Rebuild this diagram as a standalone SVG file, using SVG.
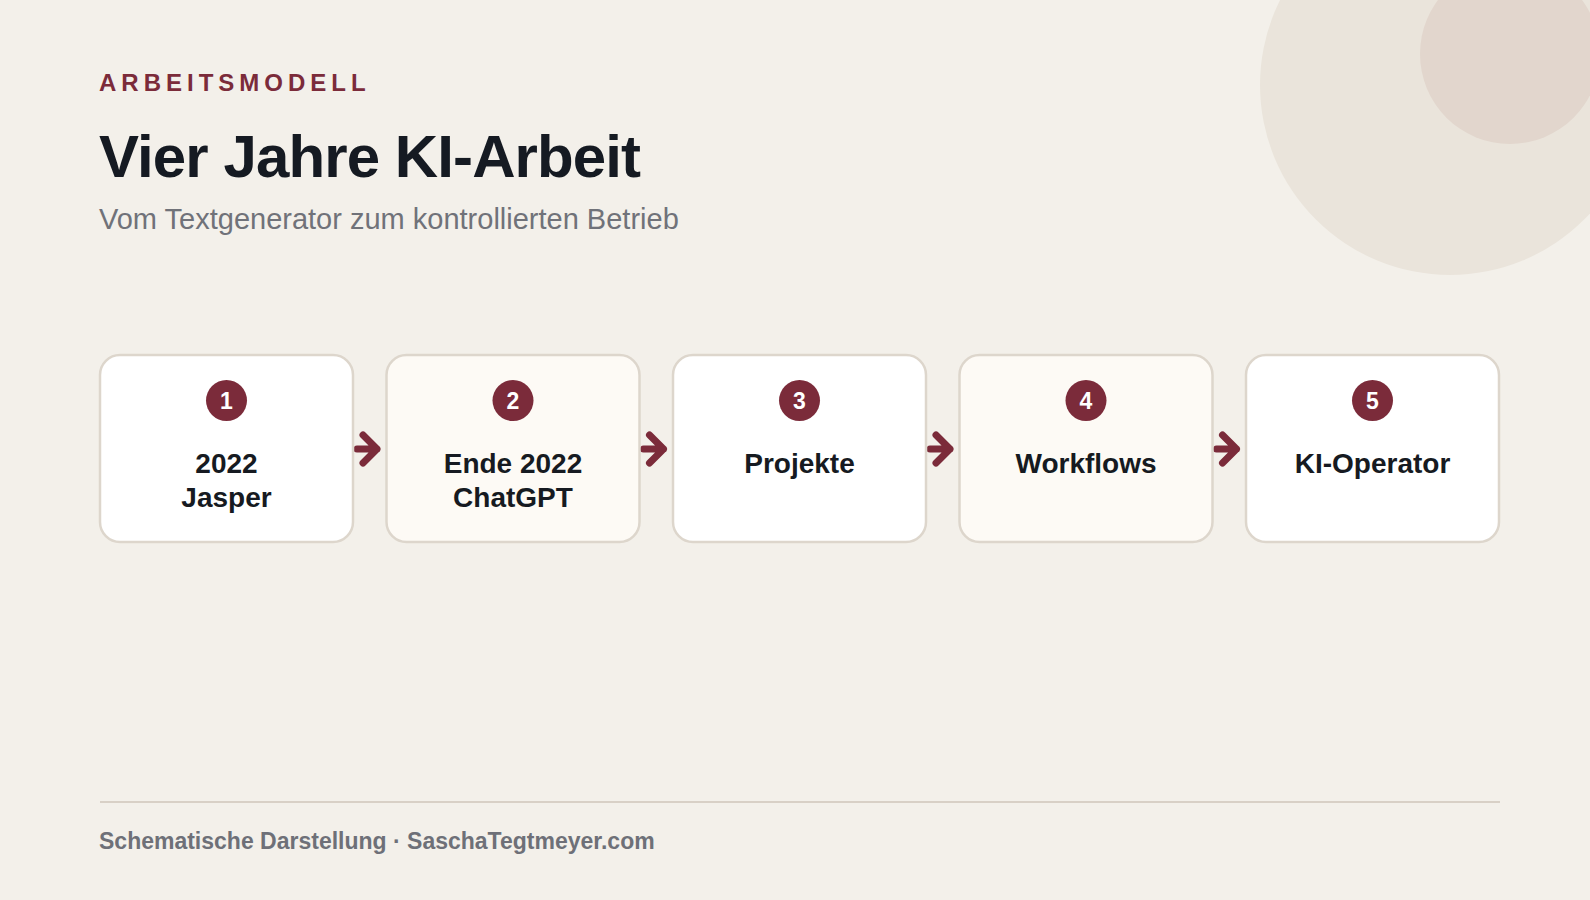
<svg xmlns="http://www.w3.org/2000/svg" width="1590" height="900" viewBox="0 0 1590 900">
<style>
.bg{fill:#F3F0EA}
.card{stroke:#DDD6CC;stroke-width:2.5}
.c1{fill:#FFFFFF}
.c2{fill:#FDFAF5}
.badge{fill:#7B2B3A}
.num{font-family:"Liberation Sans",Arial,sans-serif;font-weight:700;font-size:23px;fill:#FFFFFF;text-anchor:middle}
.lbl{font-family:"Liberation Sans",Arial,sans-serif;font-weight:700;font-size:28px;fill:#161A21;text-anchor:middle}
.arrow{fill:none;stroke:#7B2B3A;stroke-width:7;stroke-linecap:round;stroke-linejoin:round}
</style>
<rect class="bg" x="0" y="0" width="1590" height="900"/>
<circle cx="1450" cy="85" r="190" fill="#EAE4DB"/>
<circle cx="1510" cy="54" r="90" fill="#E2D6CD"/>
<text x="99" y="91" font-family="Liberation Sans, Arial, sans-serif" font-weight="700" font-size="24" letter-spacing="5" fill="#7B2B3A">ARBEITSMODELL</text>
<text x="99" y="177" font-family="Liberation Sans, Arial, sans-serif" font-weight="700" font-size="60" letter-spacing="-0.9" fill="#151A22">Vier Jahre KI-Arbeit</text>
<text x="99" y="229" font-family="Liberation Sans, Arial, sans-serif" font-size="29" fill="#707279">Vom Textgenerator zum kontrollierten Betrieb</text>

<g id="connectors">
<path class="arrow" d="M357 449 H377 M363 435 L377 449 L363 463"/>
<path class="arrow" d="M643.5 449 H663.5 M649.5 435 L663.5 449 L649.5 463"/>
<path class="arrow" d="M930 449 H950 M936 435 L950 449 L936 463"/>
<path class="arrow" d="M1216.5 449 H1236.5 M1222.5 435 L1236.5 449 L1222.5 463"/>
</g>

<g id="node1">
<rect class="card c1" x="100" y="355" width="253" height="187" rx="20"/>
<circle class="badge" cx="226.5" cy="400.5" r="20.5"/>
<text class="num" x="226.5" y="408.5">1</text>
<text class="lbl" x="226.5" y="473">2022</text>
<text class="lbl" x="226.5" y="507">Jasper</text>
</g>
<g id="node2">
<rect class="card c2" x="386.5" y="355" width="253" height="187" rx="20"/>
<circle class="badge" cx="513" cy="400.5" r="20.5"/>
<text class="num" x="513" y="408.5">2</text>
<text class="lbl" x="513" y="473">Ende 2022</text>
<text class="lbl" x="513" y="507">ChatGPT</text>
</g>
<g id="node3">
<rect class="card c1" x="673" y="355" width="253" height="187" rx="20"/>
<circle class="badge" cx="799.5" cy="400.5" r="20.5"/>
<text class="num" x="799.5" y="408.5">3</text>
<text class="lbl" x="799.5" y="473">Projekte</text>
</g>
<g id="node4">
<rect class="card c2" x="959.5" y="355" width="253" height="187" rx="20"/>
<circle class="badge" cx="1086" cy="400.5" r="20.5"/>
<text class="num" x="1086" y="408.5">4</text>
<text class="lbl" x="1086" y="473">Workflows</text>
</g>
<g id="node5">
<rect class="card c1" x="1246" y="355" width="253" height="187" rx="20"/>
<circle class="badge" cx="1372.5" cy="400.5" r="20.5"/>
<text class="num" x="1372.5" y="408.5">5</text>
<text class="lbl" x="1372.5" y="473">KI-Operator</text>
</g>

<line x1="100" y1="802" x2="1500" y2="802" stroke="#D8D0C6" stroke-width="2"/>
<text x="99" y="849" font-family="Liberation Sans, Arial, sans-serif" font-weight="700" font-size="23" fill="#6E7078">Schematische Darstellung · SaschaTegtmeyer.com</text>
</svg>
